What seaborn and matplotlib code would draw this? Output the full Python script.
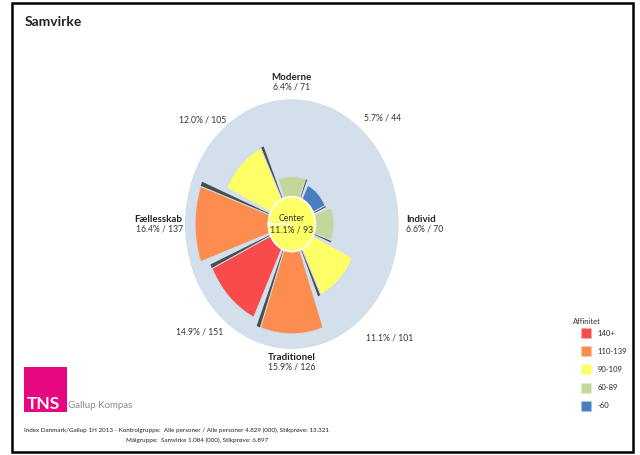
#!/usr/bin/env python
"""Samvirke — segment profile (TNS Gallup Kompas), polar sector chart."""
import matplotlib
matplotlib.use("Agg")
import matplotlib.pyplot as plt
from matplotlib.lines import Line2D
from matplotlib.patches import Rectangle
import numpy as np
import seaborn as sns

# ---- data ----
segments = ["Individ", "", "Moderne", "", "Fællesskab", "", "Traditionel", ""]
pct = [6.6, 5.7, 6.4, 12.0, 16.4, 14.9, 15.9, 11.1]
index = [70, 44, 71, 105, 137, 151, 126, 101]
center_pct, center_index = 11.1, 93

bin_labels = ["140+", "110-139", "90-109", "60-89", "-60"]
bin_colors = ["#f94b4b", "#fd8c4f", "#ffff66", "#c4d79b", "#4a7ec0"]
BG = "#d3dfeb"


def affinity_color(v):
    if v >= 140:
        return bin_colors[0]
    if v >= 110:
        return bin_colors[1]
    if v >= 90:
        return bin_colors[2]
    if v >= 60:
        return bin_colors[3]
    return bin_colors[4]


sns.set_style("white")
plt.rcParams["font.family"] = ["Lato", "DejaVu Sans"]

fig = plt.figure(figsize=(6.4, 4.55), dpi=100)
ax = fig.add_axes([0.289, 0.233, 0.334, 0.549], projection="polar")
ax.set_aspect("auto")
ax.set_facecolor(BG)

theta = np.deg2rad(np.arange(len(pct)) * 45.0)
width = np.deg2rad(39)
cols = [affinity_color(v) for v in index]

# drop shadows, then sectors (thin background edge leaves a gap to the shadow)
ax.bar(theta - np.deg2rad(2.5), pct, width=width, bottom=0, color="#4d4d4d",
       edgecolor="none", zorder=2)
ax.bar(theta, pct, width=width, bottom=0, color=cols, edgecolor=BG,
       linewidth=0.8, zorder=3)
# center disc
ax.bar(0, 4.2, width=2 * np.pi, bottom=-0.9, color=affinity_color(center_index),
       edgecolor="white", linewidth=1.2, zorder=4)
ax.text(0, -0.9, f"Center\n{center_pct:.1f}% / {center_index}", ha="center",
        va="center", fontsize=6.3, color="#333333", zorder=5, linespacing=1.3)

ax.set_ylim(-0.9, 18.2)
ax.set_xticks([]); ax.set_yticks([])
ax.grid(False)
ax.spines["polar"].set_visible(False)

# main segment labels (name bold, value below)
main_pos = {0: (19.5, "left"), 2: (20.8, "center"),
            4: (18.6, "right"), 6: (20.2, "center")}
for i, (r, ha) in main_pos.items():
    ax.text(theta[i], r, segments[i], ha=ha, va="bottom", fontsize=7,
            fontweight="bold", color="#222222", clip_on=False)
    ax.text(theta[i], r, f"{pct[i]:.1f}% / {index[i]}", ha=ha, va="top",
            fontsize=6.2, color="#333333", clip_on=False)
# diagonal segment labels
diag_r = {1: 22.0, 3: 21.6, 5: 22.5, 7: 23.8}
for i, r in diag_r.items():
    ax.text(theta[i], r, f"{pct[i]:.1f}% / {index[i]}", ha="center", va="center",
            fontsize=6.2, color="#333333", clip_on=False)

# title and frame
fig.text(25 / 640, 1 - 22 / 455, "Samvirke", fontsize=10, fontweight="bold",
         color="#222222", va="center")
fig.add_artist(Rectangle((12 / 640, 3 / 455), 621 / 640, 449 / 455,
                         transform=fig.transFigure, fill=False,
                         edgecolor="black", linewidth=1.8))

# legend
fig.text(573 / 640, 1 - 322 / 455, "Affinitet", fontsize=5.5, color="#333333",
         va="center", ha="left")
handles = [Line2D([], [], marker="s", linestyle="none", markersize=7,
                  markerfacecolor=c, markeredgecolor="none") for c in bin_colors]
fig.legend(handles, bin_labels, loc="upper left",
           bbox_to_anchor=(582 / 640, 1 - 330 / 455), frameon=False,
           fontsize=5.5, labelspacing=1.45, handletextpad=1.0,
           handlelength=1.0, borderpad=0, borderaxespad=0)

# logo
fig.add_artist(Rectangle((24 / 640, 1 - 412 / 455), 43 / 640, 45 / 455,
                         transform=fig.transFigure, facecolor="#e6067f",
                         edgecolor="none"))
fig.text(27 / 640, 1 - 404 / 455, "TNS", color="white", fontsize=12.5,
         fontweight="bold", va="center", ha="left")
fig.text(68 / 640, 1 - 406 / 455, "Gallup Kompas", color="#8a8a8a", fontsize=7,
         va="center", ha="left")

# footer
fig.text(24 / 640, 1 - 430 / 455,
         "Index Danmark/Gallup 1H 2013 - Kontrolgruppe:  Alle personer / "
         "Alle personer 4.829 (000), Stikprøve: 13.321",
         fontsize=4.5, color="#222222", va="center")
fig.text(126 / 640, 1 - 440 / 455,
         "Målgruppe:  Samvirke 1.084 (000), Stikprøve: 6.897",
         fontsize=4.5, color="#222222", va="center")

fig.savefig("out.png", dpi=100)
